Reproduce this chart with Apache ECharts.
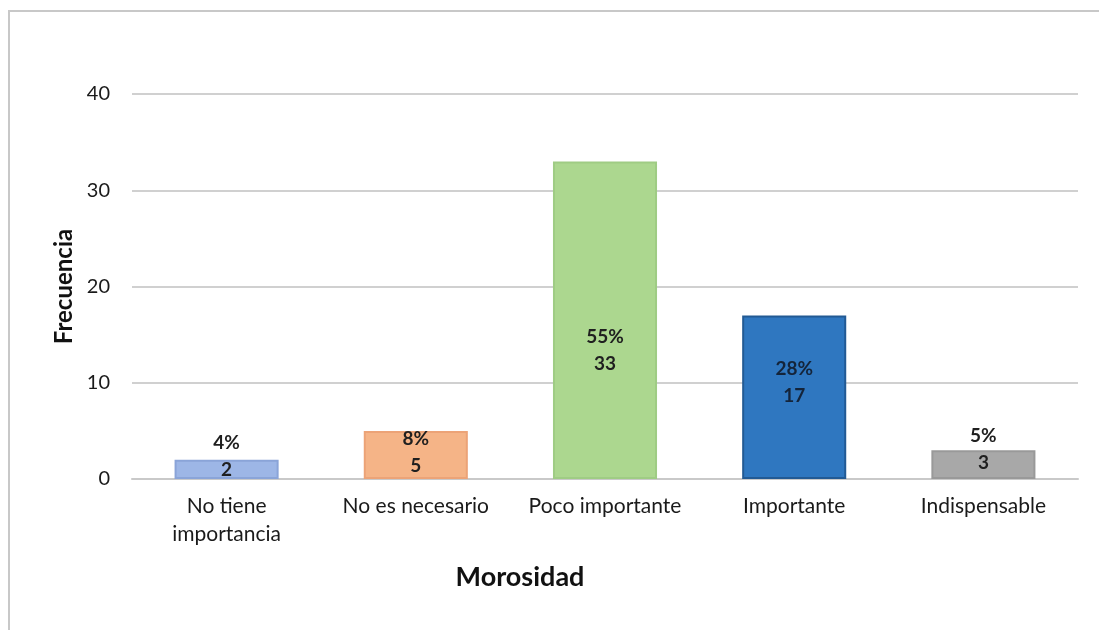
<!DOCTYPE html>
<html>
<head>
<meta charset="utf-8">
<script src="https://cdn.jsdelivr.net/npm/echarts@6/dist/echarts.min.js"></script>
<style>
  html, body { margin: 0; padding: 0; background: #fff; }
  #frame { position: absolute; left: 8px; top: 10px; right: -4px; bottom: -4px;
           border-top: 2px solid #c8c8c8; border-left: 2px solid #c8c8c8; }
  #chart { position: absolute; left: 0; top: 0; width: 1099px; height: 630px; }
</style>
</head>
<body>
<div id="frame"></div>
<div id="chart"></div>
<script>
// Morosidad: frecuencia de respuestas por categoría
const categories = ['No tiene\nimportancia', 'No es necesario', 'Poco importante', 'Importante', 'Indispensable'];
const frecuencias = [2, 5, 33, 17, 3];
const porcentajes = [4, 8, 55, 28, 5];
const yTicks = [0, 10, 20, 30, 40];

const fills   = ['#9db6e6', '#f5b487', '#acd78f', '#2f77c0', '#a8a8a8'];
const borders = ['#8aa4d8', '#eca377', '#9fcc84', '#225a94', '#999999'];
const labelOffsets = [-13, -3, 30, -15, -15];

const fontFam = 'Lato, "Open Sans", sans-serif';

const chart = echarts.init(document.getElementById('chart'));
chart.setOption({
  animation: false,
  grid: { left: 132, right: 21, top: 94, bottom: 151 },
  title: {
    text: 'Morosidad',
    left: 515, top: 559,
    textAlign: 'center',
    textStyle: { fontFamily: fontFam, fontSize: 27, fontWeight: 'bold', color: '#111' }
  },
  xAxis: {
    type: 'category',
    data: categories,
    axisTick: { show: false },
    axisLine: { lineStyle: { color: '#c9c9c9', width: 2 } },
    axisLabel: { margin: 13, fontFamily: fontFam, fontSize: 21, color: '#1a1a1a', lineHeight: 28, interval: 0 }
  },
  yAxis: {
    type: 'value',
    min: yTicks[0], max: yTicks[yTicks.length - 1], interval: 10,
    name: 'Frecuencia',
    nameLocation: 'middle',
    nameGap: 55,
    nameTextStyle: { fontFamily: fontFam, fontSize: 24, fontWeight: 'bold', color: '#111' },
    axisLine: { show: false },
    axisTick: { show: false },
    axisLabel: { margin: 22, fontFamily: fontFam, fontSize: 20, color: '#1a1a1a' },
    splitLine: { lineStyle: { color: '#d0d0d0', width: 2 } }
  },
  series: [{
    type: 'bar',
    barWidth: '55%',
    data: frecuencias.map((v, i) => ({
      value: v,
      itemStyle: { color: fills[i], borderColor: borders[i], borderWidth: 2 },
      label: {
        show: true,
        position: 'inside',
        offset: [0, labelOffsets[i]],
        formatter: porcentajes[i] + '%\n' + v,
        fontFamily: fontFam, fontSize: 19, fontWeight: 'bold',
        color: i === 3 ? '#14243a' : '#1f1f1f',
        lineHeight: 27
      }
    }))
  }]
});
</script>
</body>
</html>
